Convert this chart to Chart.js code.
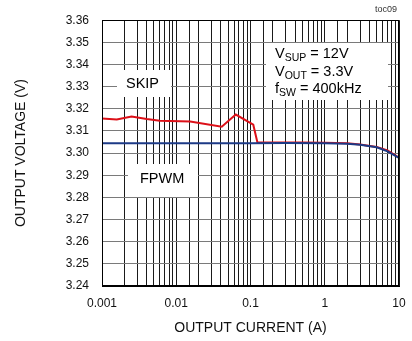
<!DOCTYPE html>
<html><head><meta charset="utf-8">
<script src="https://cdn.jsdelivr.net/npm/chart.js@4"></script>
<style>html,body{margin:0;padding:0;background:#fff}#wrap{width:412px;height:341px}</style>
</head><body><div id="wrap"><canvas id="c" width="412" height="341"></canvas></div>
<script>
const skipCurrent = [0.001, 0.00158, 0.0025, 0.004, 0.006, 0.0154, 0.041, 0.0634, 0.109, 0.124, 0.2, 0.5, 1, 2, 3, 5, 7, 10];
const skipVoltage = [3.3156, 3.3152, 3.3165, 3.3154, 3.3146, 3.3143, 3.3119, 3.3174, 3.3128, 3.3048, 3.3048, 3.3048, 3.3047, 3.3044, 3.3039, 3.3028, 3.3012, 3.2979];
const fpwmCurrent = [0.001, 0.01, 0.1, 0.3, 1, 2, 3, 5, 7, 10];
const fpwmVoltage = [3.3044, 3.3045, 3.3045, 3.3046, 3.3045, 3.3042, 3.3038, 3.3026, 3.3008, 3.2978];
const xTickLabels = ['0.001', '0.01', '0.1', '1', '10'];
const yTickValues = [3.24, 3.25, 3.26, 3.27, 3.28, 3.29, 3.30, 3.31, 3.32, 3.33, 3.34, 3.35, 3.36];

const FONT = '"Liberation Sans", Arial, sans-serif';
const toPts = (xs, ys) => xs.map((x, i) => ({x, y: ys[i]}));

const overlay = {
  id: 'overlay',
  beforeDatasetsDraw(chart) {
    const ctx = chart.ctx;
    ctx.save();
    ctx.fillStyle = '#fff';
    ctx.fillRect(117, 70, 54, 27);
    ctx.fillRect(128, 164, 70, 33);
    ctx.fillRect(266, 43, 122, 57);
    ctx.fillStyle = '#000';
    ctx.font = '14.5px ' + FONT;
    ctx.textBaseline = 'middle';
    ctx.textAlign = 'left';
    ctx.fillText('SKIP', 126, 84);
    ctx.fillText('FPWM', 140, 179);
    const sub = (x, y, main, s, rest) => {
      ctx.font = '14.5px ' + FONT;
      ctx.textBaseline = 'alphabetic';
      ctx.fillText(main, x, y);
      let w = ctx.measureText(main).width;
      ctx.font = '10.5px ' + FONT;
      ctx.fillText(s, x + w, y + 3);
      w += ctx.measureText(s).width;
      ctx.font = '14.5px ' + FONT;
      ctx.fillText(rest, x + w, y);
    };
    sub(275, 58, 'V', 'SUP', ' = 12V');
    sub(275, 76, 'V', 'OUT', ' = 3.3V');
    sub(275, 93, 'f', 'SW', ' = 400kHz');
    ctx.restore();
  },
  afterDraw(chart) {
    const ctx = chart.ctx;
    const a = chart.chartArea;
    ctx.save();
    ctx.strokeStyle = '#000';
    ctx.lineWidth = 1;
    ctx.strokeRect(Math.round(a.left) + 0.5, Math.round(a.top) + 0.5, Math.round(a.right - a.left) - 1, Math.round(a.bottom - a.top) - 1);
    ctx.fillStyle = '#333';
    ctx.font = '9px ' + FONT;
    ctx.textAlign = 'right';
    ctx.textBaseline = 'middle';
    ctx.fillText('toc09', 397, 10);
    ctx.restore();
  }
};

new Chart(document.getElementById('c'), {
  type: 'line',
  data: {
    datasets: [
      { label: 'FPWM', data: toPts(fpwmCurrent, fpwmVoltage), borderColor: '#1c3a86', borderWidth: 2, pointRadius: 0, tension: 0, fill: false },
      { label: 'SKIP', data: toPts(skipCurrent, skipVoltage), borderColor: '#dc1018', borderWidth: 2, pointRadius: 0, tension: 0, fill: false }
    ]
  },
  options: {
    responsive: false,
    animation: false,
    devicePixelRatio: 1,
    layout: { padding: { top: 19, right: 13, left: 0, bottom: 0 } },
    plugins: { legend: { display: false }, tooltip: { enabled: false } },
    scales: {
      x: {
        type: 'logarithmic', min: 0.001, max: 10,
        afterFit(s) { s.height = 55; },
        grid: { color: '#1a1a1a', lineWidth: 1, drawTicks: true, tickLength: 7, tickColor: 'rgba(0,0,0,0)' },
        border: { display: true, color: '#000' },
        ticks: {
          autoSkip: false, maxRotation: 0, padding: 3, color: '#111',
          font: { family: FONT, size: 12 },
          callback(v) {
            const l = Math.log10(v);
            if (Math.abs(l - Math.round(l)) < 1e-6) return xTickLabels[Math.round(l) + 3];
            return '';
          }
        },
        title: { display: true, text: 'OUTPUT CURRENT (A)', color: '#111', font: { family: FONT, size: 14 }, padding: { top: 0, bottom: 4 } }
      },
      y: {
        type: 'linear', min: 3.24, max: 3.36,
        afterFit(s) { s.width = 102; },
        afterBuildTicks(s) { s.ticks = yTickValues.map(v => ({value: v})); },
        grid: { color: '#7a7a7a', lineWidth: 1, drawTicks: false },
        border: { display: true, color: '#000' },
        ticks: {
          padding: 13, color: '#111',
          font: { family: FONT, size: 12 },
          callback(v) { return v.toFixed(2); }
        },
        title: { display: true, text: 'OUTPUT VOLTAGE (V)', color: '#111', font: { family: FONT, size: 14 }, padding: { top: 13, bottom: 0 } }
      }
    }
  },
  plugins: [overlay]
});
</script></body></html>
